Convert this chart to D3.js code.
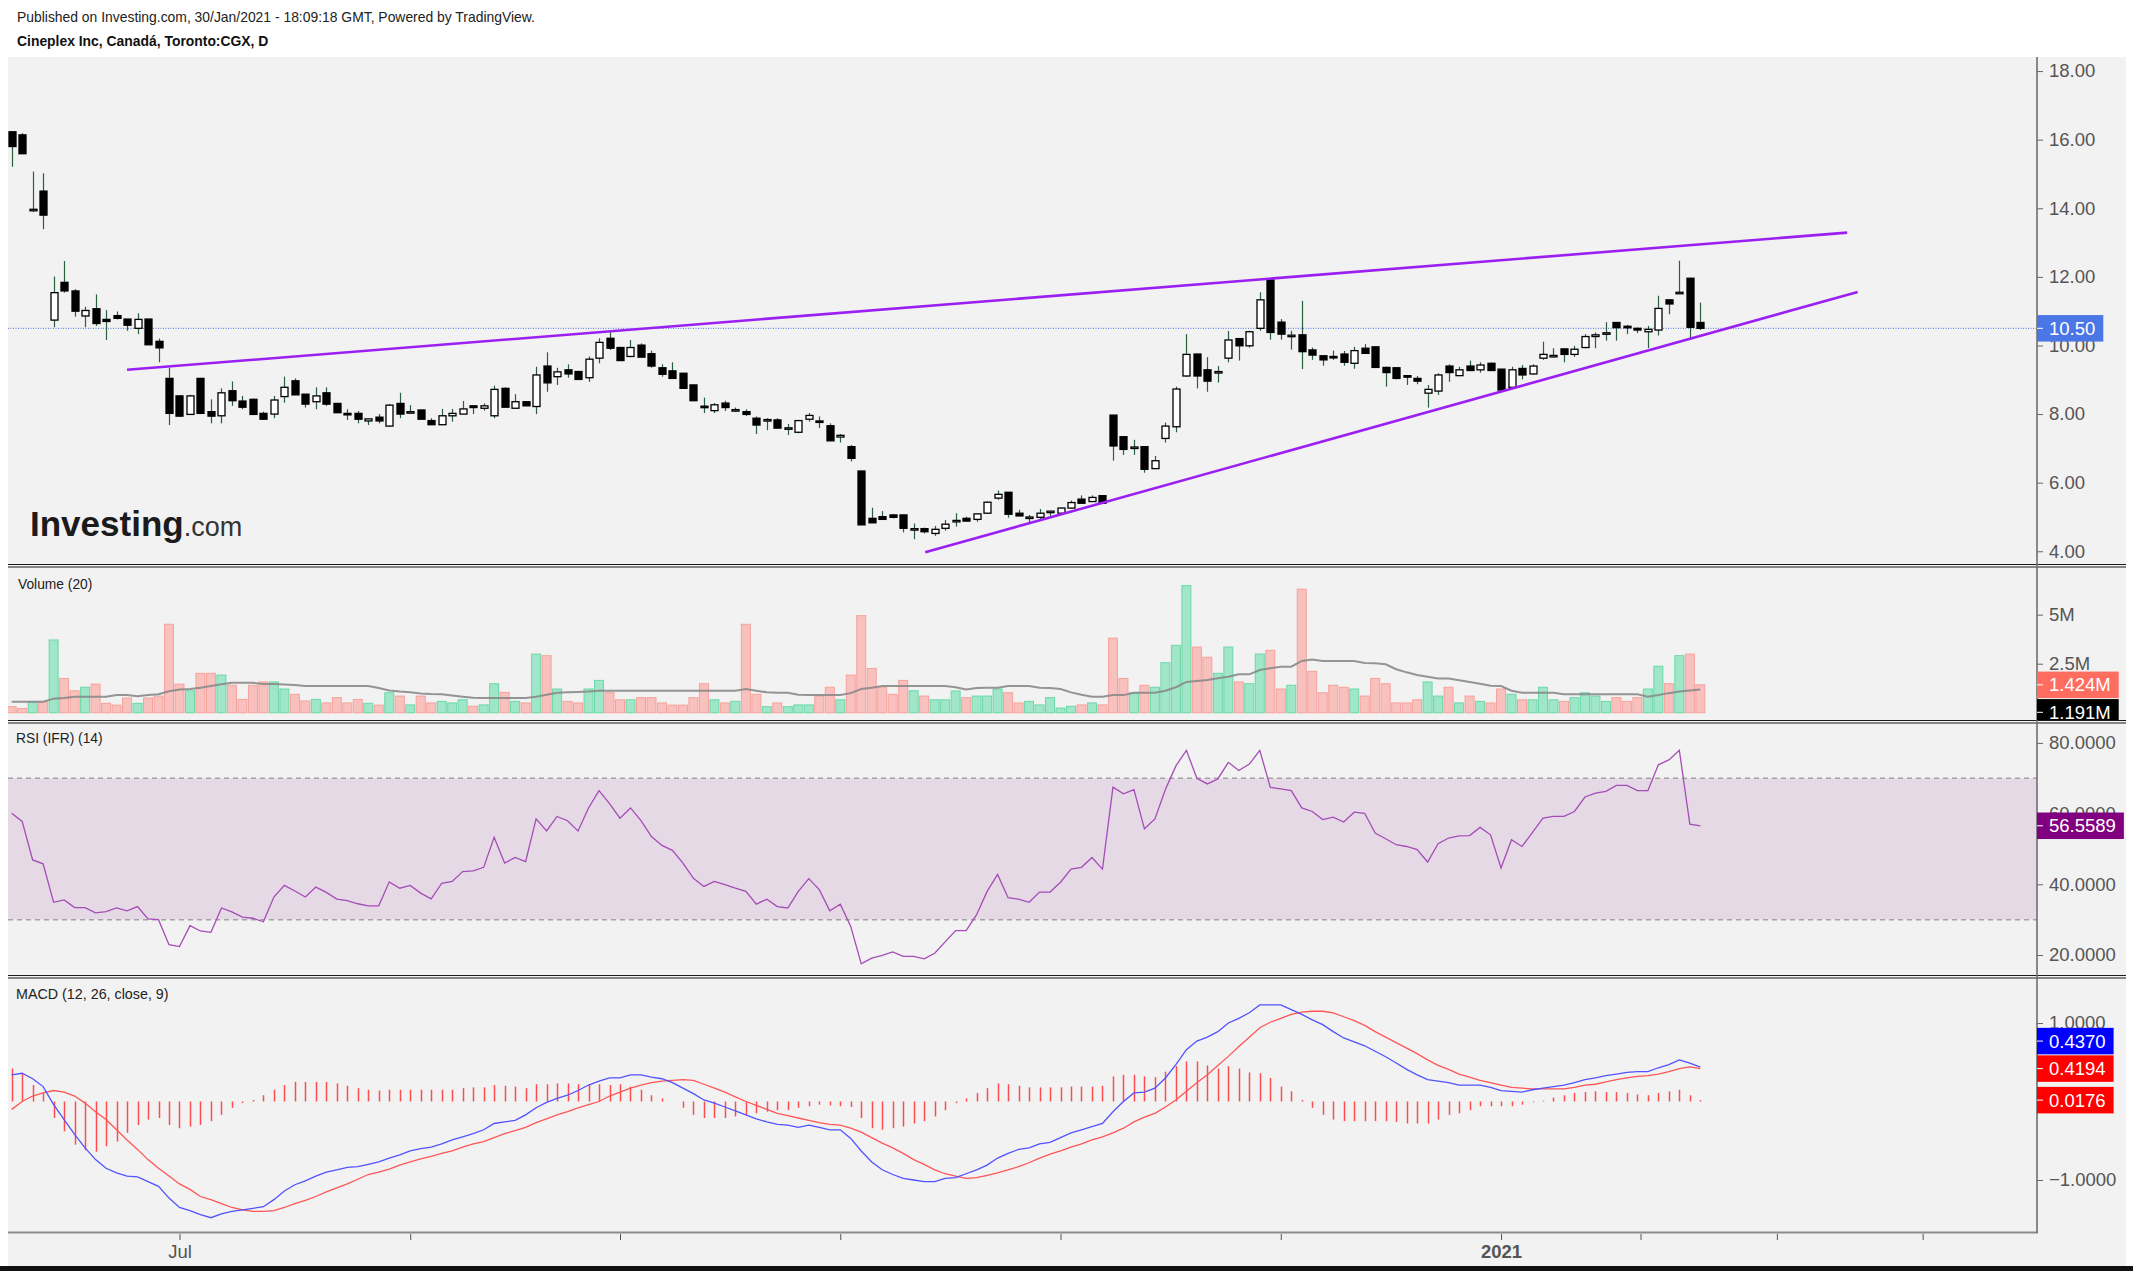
<!DOCTYPE html>
<html>
<head>
<meta charset="utf-8">
<script src="https://cdn.jsdelivr.net/npm/d3@7"></script>
<style>
  body { margin: 0; background: #fff; }
  svg { display: block; font-family: "Liberation Sans", Arial, sans-serif; }
</style>
</head>
<body>
<div id="chart"></div>
<script>
// ---- data ----
const titleLine = "Published on Investing.com, 30/Jan/2021 - 18:09:18 GMT, Powered by TradingView.";
const symbolLine = "Cineplex Inc, Canadá, Toronto:CGX, D";

// TSX closed days inside the range
const holidays = ["2020-07-01", "2020-08-03", "2020-09-07", "2020-10-12", "2020-12-25", "2020-12-28", "2021-01-01"];

const open = [
  16.23,16.14,13.94,14.50,10.74,11.84,11.59,10.86,11.07,10.76,
  10.87,10.77,10.50,10.77,10.12,9.04,8.53,7.99,9.04,8.07,
  7.95,8.68,8.38,8.43,8.02,8.00,8.51,8.97,8.58,8.36,
  8.62,8.31,8.02,8.02,7.80,7.91,7.65,8.31,8.04,8.12,
  7.81,7.69,7.95,8.00,8.24,8.17,7.95,8.75,8.17,8.36,
  8.22,9.40,9.09,9.29,9.24,9.06,9.63,10.21,9.94,9.68,
  10.01,9.76,9.35,9.26,9.19,8.85,8.23,8.10,8.32,8.11,
  8.07,7.88,7.82,7.83,7.58,7.47,7.85,7.80,7.66,7.33,
  7.05,6.34,4.96,5.01,5.06,5.06,4.63,4.66,4.52,4.67,
  4.88,4.96,4.93,5.11,5.55,5.72,5.11,4.98,4.99,5.15,
  5.11,5.26,5.52,5.45,5.62,7.97,7.34,7.02,7.05,6.41,
  7.29,7.63,9.11,9.75,9.29,9.21,9.63,10.20,9.99,10.50,
  11.91,10.68,10.27,10.31,9.87,9.70,9.68,9.75,9.48,9.92,
  9.96,9.36,9.35,9.12,9.04,8.61,8.67,9.40,9.12,9.40,
  9.29,9.48,9.31,8.78,9.33,9.17,9.63,9.69,9.90,9.74,
  9.94,10.26,10.35,10.67,10.56,10.50,10.40,10.45,11.33,11.51,
  11.96,10.67
];
const high = [
  16.23,16.19,15.07,15.02,12.01,12.46,11.64,11.13,11.49,11.03,
  10.99,10.77,10.94,10.77,10.20,9.35,8.55,8.56,9.06,8.43,
  8.75,8.95,8.53,8.45,8.07,8.53,9.09,9.04,8.58,8.78,
  8.78,8.31,8.14,8.09,7.86,8.00,8.29,8.62,8.26,8.12,
  7.88,8.15,8.15,8.38,8.24,8.31,8.83,8.78,8.58,8.36,
  9.38,9.80,9.35,9.45,9.26,9.68,10.21,10.40,9.96,10.16,
  10.06,9.85,9.45,9.51,9.19,8.85,8.48,8.32,8.39,8.19,
  8.14,7.93,7.88,7.88,7.71,7.83,8.03,7.93,7.73,7.42,
  7.10,6.34,5.27,5.17,5.08,5.06,4.81,4.69,4.74,4.91,
  5.11,5.01,5.10,5.45,5.77,5.72,5.21,5.06,5.23,5.18,
  5.27,5.48,5.63,5.63,5.63,7.97,7.34,7.25,7.05,6.78,
  7.75,8.80,10.33,9.76,9.66,9.40,10.42,10.22,10.43,11.55,
  11.93,10.77,10.43,11.30,9.94,9.70,9.85,9.84,9.96,10.04,
  9.97,9.38,9.36,9.14,9.11,8.85,9.19,9.45,9.38,9.56,
  9.51,9.50,9.31,9.38,9.43,9.45,10.11,9.92,9.92,9.99,
  10.33,10.38,10.68,10.68,10.60,10.52,10.57,11.45,11.35,12.47,
  11.97,11.25
];
const low = [
  15.21,15.59,13.90,13.39,10.53,11.54,10.84,10.53,10.57,10.16,
  10.76,10.43,10.33,10.02,9.51,7.68,7.92,7.99,8.02,7.73,
  7.73,8.24,8.14,7.99,7.84,7.88,8.33,8.56,8.19,8.14,
  8.24,8.04,7.83,7.73,7.68,7.73,7.63,7.88,8.02,7.85,
  7.69,7.69,7.78,8.00,8.00,8.10,7.88,8.20,8.15,8.24,
  8.00,8.65,8.85,9.06,9.01,8.94,9.48,9.87,9.56,9.66,
  9.66,9.35,9.09,9.04,8.75,8.39,8.03,8.03,8.09,8.06,
  7.94,7.42,7.53,7.59,7.39,7.44,7.78,7.59,7.22,7.17,
  6.62,4.77,4.83,4.93,4.96,4.55,4.35,4.52,4.45,4.60,
  4.72,4.88,4.86,5.10,5.50,4.98,5.03,4.83,4.91,5.03,
  5.10,5.25,5.40,5.44,5.40,6.64,6.81,6.81,6.29,6.41,
  7.17,7.47,9.09,8.75,8.65,8.92,9.51,9.56,9.94,10.43,
  10.17,10.17,9.88,9.31,9.58,9.41,9.58,9.41,9.32,9.77,
  9.36,8.80,9.01,8.85,8.87,8.19,8.56,8.94,9.12,9.27,
  9.21,9.27,8.70,8.76,9.01,9.15,9.58,9.65,9.51,9.67,
  9.92,9.92,10.14,10.14,10.33,10.36,9.92,10.29,10.91,11.50,
  10.17,10.45
];
const close = [
  15.80,15.59,13.97,13.80,11.54,11.59,11.00,11.02,10.64,10.70,
  10.79,10.59,10.76,10.02,9.93,8.02,7.94,8.53,8.02,7.94,
  8.62,8.39,8.20,7.99,7.85,8.41,8.78,8.56,8.29,8.53,
  8.29,8.04,8.00,7.85,7.86,7.80,8.26,8.00,8.07,7.85,
  7.69,7.95,8.02,8.15,8.19,8.24,8.72,8.20,8.36,8.24,
  9.14,8.91,9.23,9.17,9.01,9.60,10.09,9.92,9.56,9.94,
  9.66,9.40,9.16,9.04,8.75,8.39,8.21,8.27,8.19,8.13,
  7.99,7.68,7.84,7.59,7.60,7.81,7.96,7.76,7.22,7.38,
  6.71,4.77,4.83,4.93,4.99,4.67,4.66,4.57,4.64,4.79,
  4.90,4.88,5.09,5.43,5.66,5.08,5.03,5.00,5.11,5.17,
  5.26,5.42,5.40,5.57,5.40,7.07,6.97,7.04,6.39,6.64,
  7.65,8.73,9.74,9.11,8.96,9.24,10.16,9.99,10.40,11.33,
  10.38,10.33,10.30,9.82,9.72,9.58,9.66,9.51,9.85,9.77,
  9.36,9.21,9.04,9.10,8.96,8.72,9.14,9.21,9.29,9.27,
  9.43,9.27,8.70,9.29,9.14,9.40,9.74,9.71,9.74,9.89,
  10.26,10.31,10.37,10.52,10.54,10.45,10.47,11.08,11.21,11.55,
  10.53,10.50
];

// volume in millions, and its 20-day average
const volume = [
  0.31,0.22,0.56,0.56,3.71,1.75,1.12,1.30,1.46,0.48,
  0.39,0.75,0.48,0.75,0.85,4.51,1.46,1.12,2.01,2.01,
  1.92,1.40,0.68,1.40,1.57,1.57,1.21,0.94,0.60,0.68,
  0.50,0.77,0.50,0.68,0.48,0.39,1.02,0.85,0.40,0.85,
  0.50,0.58,0.50,0.66,0.33,0.40,1.48,1.04,0.58,0.50,
  2.99,2.91,1.21,0.58,0.50,1.21,1.65,1.02,0.66,0.66,
  0.77,0.77,0.50,0.39,0.39,0.77,1.48,0.66,0.50,0.58,
  4.51,0.94,0.31,0.50,0.31,0.40,0.40,0.85,1.30,0.66,
  1.92,4.95,2.26,1.30,0.94,1.65,1.12,0.85,0.66,0.66,
  1.11,0.77,0.85,0.85,1.21,1.02,0.50,0.58,0.40,0.77,
  0.24,0.33,0.40,0.50,0.40,3.80,1.75,1.02,1.40,1.30,
  2.55,3.44,6.48,3.35,2.83,2.01,3.35,1.57,1.48,2.99,
  3.18,1.21,1.40,6.30,2.11,1.02,1.40,1.30,1.21,0.85,
  1.75,1.48,0.50,0.50,0.66,1.57,0.85,1.30,0.50,0.85,
  0.58,0.50,1.21,0.94,0.66,0.66,1.30,0.66,0.58,0.77,
  1.02,0.85,0.58,0.77,0.58,0.77,1.21,2.37,1.48,2.91,
  2.99,1.424
];
const volumeMA = [
  0.56,0.56,0.56,0.56,0.72,0.75,0.82,0.82,0.82,0.82,
  0.90,0.90,0.84,0.90,0.94,1.10,1.19,1.21,1.28,1.36,
  1.45,1.53,1.53,1.53,1.46,1.46,1.44,1.42,1.36,1.36,
  1.36,1.36,1.36,1.36,1.36,1.26,1.14,1.08,1.04,0.98,
  0.95,0.94,0.88,0.82,0.76,0.75,0.75,0.75,0.75,0.75,
  0.82,0.92,1.02,1.04,1.06,1.08,1.12,1.12,1.12,1.12,
  1.12,1.12,1.12,1.12,1.12,1.12,1.12,1.12,1.12,1.12,
  1.21,1.12,1.04,1.02,1.02,0.92,0.90,0.90,0.90,0.90,
  1.00,1.21,1.28,1.36,1.36,1.36,1.36,1.36,1.36,1.36,
  1.30,1.19,1.26,1.28,1.28,1.36,1.36,1.36,1.28,1.26,
  1.21,1.04,0.92,0.82,0.82,0.90,0.90,1.02,1.02,1.02,
  1.12,1.30,1.57,1.62,1.67,1.76,1.84,1.96,1.96,2.18,
  2.27,2.35,2.35,2.64,2.72,2.64,2.64,2.64,2.64,2.54,
  2.52,2.47,2.22,2.06,1.92,1.84,1.75,1.74,1.66,1.57,
  1.48,1.38,1.36,1.12,1.02,1.02,1.02,1.02,0.94,0.94,
  0.94,0.94,0.94,0.94,0.94,0.94,0.82,0.90,1.00,1.08,
  1.14,1.191
];

const rsi = [
  60.1,57.8,46.9,45.8,34.9,35.6,33.4,33.4,31.9,32.3,
  33.3,32.5,33.7,30.2,30.0,22.9,22.4,28.3,26.8,26.4,
  33.3,32.2,30.7,30.4,29.4,36.4,39.7,38.1,36.4,39.2,
  37.7,35.8,35.4,34.5,33.9,33.9,40.7,38.9,39.7,37.5,
  35.9,40.3,40.8,43.6,43.8,44.8,53.3,46.0,47.6,46.4,
  58.5,55.1,59.2,58.0,55.1,61.6,66.5,62.8,58.7,61.6,
  58.0,53.5,51.0,49.6,46.0,41.7,39.4,40.8,39.9,38.9,
  38.0,34.4,35.8,33.7,33.3,38.0,41.6,38.5,32.5,34.4,
  28.1,17.5,19.1,19.9,20.9,19.6,19.6,18.9,20.5,23.7,
  26.9,26.9,31.4,38.0,42.8,36.2,35.8,34.9,37.8,37.8,
  40.6,44.3,44.8,47.6,44.3,67.5,65.6,66.8,55.7,58.5,
  66.8,73.5,77.9,70.0,68.4,69.8,74.5,72.2,74.0,77.9,
  67.4,67.0,66.5,61.6,60.6,58.3,59.0,57.6,60.4,60.1,
  54.5,52.9,51.2,50.7,49.8,46.3,51.5,53.1,53.7,53.8,
  56.1,54.0,44.6,52.6,50.7,54.7,58.7,59.2,59.2,60.6,
  64.7,65.8,66.3,68.0,68.0,66.5,66.5,73.8,75.2,77.9,
  57.0,56.5589
];

const macd = [
  0.34,0.36,0.29,0.19,-0.04,-0.23,-0.42,-0.59,-0.74,-0.85,
  -0.91,-0.95,-0.96,-1.02,-1.08,-1.23,-1.35,-1.39,-1.44,-1.48,
  -1.43,-1.40,-1.38,-1.36,-1.34,-1.25,-1.14,-1.06,-1.01,-0.95,
  -0.90,-0.87,-0.84,-0.83,-0.80,-0.77,-0.72,-0.68,-0.63,-0.60,
  -0.58,-0.54,-0.49,-0.45,-0.41,-0.36,-0.28,-0.26,-0.24,-0.17,
  -0.08,-0.01,0.04,0.08,0.14,0.21,0.26,0.30,0.30,0.34,
  0.34,0.31,0.29,0.24,0.17,0.10,0.02,-0.02,-0.07,-0.12,
  -0.17,-0.22,-0.26,-0.29,-0.30,-0.33,-0.30,-0.33,-0.36,-0.36,
  -0.47,-0.63,-0.77,-0.87,-0.93,-0.98,-1.00,-1.02,-1.02,-0.98,
  -0.97,-0.92,-0.87,-0.81,-0.72,-0.66,-0.61,-0.59,-0.54,-0.52,
  -0.46,-0.40,-0.36,-0.32,-0.28,-0.13,0.00,0.11,0.12,0.17,
  0.30,0.47,0.66,0.77,0.82,0.89,1.00,1.06,1.13,1.23,
  1.23,1.23,1.17,1.11,1.04,0.98,0.89,0.81,0.76,0.71,
  0.64,0.57,0.49,0.41,0.34,0.28,0.26,0.24,0.21,0.21,
  0.21,0.18,0.14,0.13,0.12,0.15,0.17,0.19,0.21,0.24,
  0.28,0.30,0.33,0.35,0.37,0.38,0.38,0.43,0.47,0.53,
  0.49,0.4370
];
const signal = [
  -0.10,0.00,0.07,0.11,0.14,0.12,0.07,-0.02,-0.13,-0.23,
  -0.36,-0.49,-0.61,-0.74,-0.85,-0.95,-1.05,-1.12,-1.21,-1.25,
  -1.30,-1.35,-1.38,-1.40,-1.40,-1.39,-1.35,-1.30,-1.26,-1.21,
  -1.15,-1.10,-1.05,-0.99,-0.93,-0.90,-0.86,-0.81,-0.77,-0.73,
  -0.70,-0.66,-0.63,-0.58,-0.54,-0.51,-0.46,-0.41,-0.37,-0.33,
  -0.27,-0.22,-0.17,-0.13,-0.08,-0.04,0.00,0.07,0.12,0.17,
  0.21,0.24,0.26,0.27,0.28,0.27,0.22,0.17,0.12,0.06,
  0.00,-0.05,-0.10,-0.15,-0.18,-0.21,-0.24,-0.27,-0.29,-0.30,
  -0.34,-0.39,-0.46,-0.53,-0.59,-0.66,-0.74,-0.80,-0.87,-0.92,
  -0.95,-0.98,-0.97,-0.94,-0.91,-0.87,-0.83,-0.78,-0.72,-0.67,
  -0.63,-0.58,-0.54,-0.49,-0.45,-0.40,-0.34,-0.26,-0.20,-0.15,
  -0.07,0.02,0.13,0.24,0.34,0.46,0.575,0.70,0.82,0.94,
  1.01,1.06,1.11,1.14,1.15,1.15,1.13,1.08,1.03,0.97,
  0.89,0.82,0.75,0.68,0.61,0.53,0.46,0.41,0.35,0.31,
  0.27,0.24,0.21,0.18,0.17,0.16,0.16,0.16,0.16,0.18,
  0.21,0.22,0.25,0.28,0.30,0.32,0.33,0.35,0.38,0.42,
  0.44,0.4194
];
const histogram = [
  0.42,0.36,0.21,0.11,-0.21,-0.38,-0.55,-0.62,-0.64,-0.57,
  -0.51,-0.40,-0.30,-0.23,-0.21,-0.30,-0.34,-0.32,-0.30,-0.25,
  -0.17,-0.08,-0.02,0.02,0.08,0.15,0.21,0.25,0.25,0.25,
  0.25,0.23,0.20,0.17,0.15,0.14,0.15,0.15,0.15,0.15,
  0.15,0.15,0.15,0.17,0.18,0.18,0.21,0.20,0.19,0.17,
  0.22,0.22,0.23,0.23,0.22,0.22,0.22,0.21,0.22,0.19,
  0.15,0.08,0.04,0.00,-0.08,-0.17,-0.21,-0.21,-0.21,-0.19,
  -0.17,-0.15,-0.13,-0.11,-0.11,-0.08,-0.06,-0.04,-0.05,-0.06,
  -0.07,-0.21,-0.34,-0.36,-0.34,-0.32,-0.28,-0.25,-0.19,-0.11,
  -0.02,0.04,0.11,0.17,0.23,0.22,0.20,0.18,0.18,0.18,
  0.18,0.19,0.19,0.19,0.20,0.32,0.34,0.34,0.32,0.31,
  0.38,0.45,0.51,0.51,0.46,0.42,0.45,0.42,0.37,0.36,
  0.30,0.19,0.13,0.02,-0.08,-0.17,-0.23,-0.25,-0.25,-0.25,
  -0.25,-0.25,-0.26,-0.28,-0.28,-0.28,-0.23,-0.17,-0.15,-0.11,
  -0.06,-0.06,-0.06,-0.06,-0.04,-0.01,0.01,0.05,0.08,0.11,
  0.12,0.13,0.12,0.12,0.11,0.09,0.08,0.11,0.13,0.15,
  0.08,0.0176
];

// trend lines drawn on the chart: [bar index, price]
const trendUpper = [[11.0, 9.29], [175.0, 13.29]];
const trendLower = [[87.1, 3.97], [176.0, 11.56]];

const priceTicks = [4, 6, 8, 10, 12, 14, 16, 18];
const volumeTicks = [2.5, 5];
const rsiTicks = [20, 40, 60, 80];
const macdTicks = [-1, 1];
// extra marks on the time axis past the month marks (bar index)
const extraTimeTicks = [155.3, 168.3, 182.2];

// ---- layout ----
const width = 2133, height = 1271;
const plotL = 8, plotR = 2037, bgR = 2126;
const P = { top: 57, bottom: 565 }, V = { top: 566, bottom: 721 },
      R = { top: 721, bottom: 976 }, M = { top: 976, bottom: 1233 };

const fmtDay = d3.timeFormat("%Y-%m-%d");
const dates = d3.timeDay.range(new Date(2020, 5, 9), new Date(2021, 0, 30))
  .filter(d => d.getDay() % 6 !== 0 && !holidays.includes(fmtDay(d)));

const x = d3.scaleLinear().domain([-0.35, 193.1]).range([plotL, plotR]);
const yP = d3.scaleLinear().domain([3.60, 18.41]).range([P.bottom, P.top]);
const yV = d3.scaleLinear().domain([-0.42, 7.48]).range([V.bottom, V.top]);
const yR = d3.scaleLinear().domain([14.06, 86.2]).range([R.bottom, R.top]);
const yM = d3.scaleLinear().domain([-1.675, 1.599]).range([M.bottom, M.top]);

const svg = d3.select("#chart").append("svg")
  .attr("width", width).attr("height", height);

const defs = svg.append("defs");
function clip(id, x0, x1, y0, y1) {
  defs.append("clipPath").attr("id", id).append("rect")
    .attr("x", x0).attr("y", y0).attr("width", x1 - x0).attr("height", y1 - y0);
}
clip("cp", plotL, plotR, P.top, P.bottom);
clip("cv", plotL, plotR, V.top, V.bottom);
clip("cr", plotL, plotR, R.top, R.bottom);
clip("cm", plotL, plotR, M.top, M.bottom);
clip("lp", plotR, width, P.top, P.bottom);
clip("lv", plotR, width, V.top + 1, V.bottom - 1);
clip("lr", plotR, width, R.top + 2, R.bottom - 1);
clip("lm", plotR, width, M.top + 2, M.bottom);

// background
svg.append("rect").attr("x", plotL).attr("y", P.top)
  .attr("width", bgR - plotL).attr("height", 1266 - P.top).attr("fill", "#f2f2f2");
svg.append("rect").attr("x", 0).attr("y", 1266).attr("width", width).attr("height", 5).attr("fill", "#111");

// titles
svg.append("text").attr("x", 17).attr("y", 21.5).attr("font-size", 13.9).attr("fill", "#222").text(titleLine);
svg.append("text").attr("x", 17).attr("y", 46).attr("font-size", 13.9).attr("font-weight", "bold")
  .attr("fill", "#111").text(symbolLine);

// ---- price panel ----
const bars = d3.range(dates.length).map(i => ({
  i, o: open[i], h: high[i], l: low[i], c: close[i], v: volume[i]
}));

const gP = svg.append("g").attr("clip-path", "url(#cp)");

// logo
const logo = gP.append("text").attr("x", 30).attr("y", 536).attr("fill", "#1b1b1b");
logo.append("tspan").attr("font-size", 35).attr("font-weight", "bold").text("Investing");
logo.append("tspan").attr("font-size", 27).attr("fill", "#333").text(".com");

// last price line
gP.append("line").attr("x1", plotL).attr("x2", plotR)
  .attr("y1", yP(close[close.length - 1])).attr("y2", yP(close[close.length - 1]))
  .attr("stroke", "#4b6fe0").attr("stroke-width", 1).attr("stroke-dasharray", "1,1.5");

gP.selectAll("line.wick").data(bars).join("line").attr("class", "wick")
  .attr("x1", d => Math.round(x(d.i)) + 0.5).attr("x2", d => Math.round(x(d.i)) + 0.5)
  .attr("y1", d => yP(d.h)).attr("y2", d => yP(d.l))
  .attr("stroke", "#2a5f3f").attr("stroke-width", 1.2);

gP.selectAll("rect.body").data(bars).join("rect").attr("class", "body")
  .attr("x", d => Math.round(x(d.i)) - 3)
  .attr("width", 7)
  .attr("y", d => yP(Math.max(d.o, d.c)))
  .attr("height", d => Math.max(1.5, Math.abs(yP(d.o) - yP(d.c))))
  .attr("fill", d => d.c >= d.o ? "#fff" : "#000")
  .attr("stroke", "#000").attr("stroke-width", 1.3);

const trend = d3.line().x(d => x(d[0])).y(d => yP(d[1]));
[trendUpper, trendLower].forEach(t => {
  gP.append("path").attr("d", trend(t)).attr("fill", "none")
    .attr("stroke", "#9b1ff2").attr("stroke-width", 2.6);
});

// ---- volume panel ----
const gV = svg.append("g").attr("clip-path", "url(#cv)");
gV.selectAll("rect.vol").data(bars).join("rect").attr("class", "vol")
  .attr("x", d => x(d.i) - 4.5).attr("width", 9)
  .attr("y", d => yV(d.v)).attr("height", d => yV(0) - yV(d.v))
  .attr("fill", d => d.c >= d.o ? "#a0e6c8" : "#f8c1bd")
  .attr("stroke", d => d.c >= d.o ? "#6cd8a8" : "#f6a29c").attr("stroke-width", 1);
gV.append("path").datum(volumeMA)
  .attr("d", d3.line().x((d, i) => x(i)).y(d => yV(d)))
  .attr("fill", "none").attr("stroke", "#8a8a8a").attr("stroke-width", 2).attr("stroke-opacity", 0.9);
svg.append("text").attr("x", 18).attr("y", 588.5).attr("font-size", 13.8).attr("fill", "#222").text("Volume (20)");

// ---- RSI panel ----
const gR = svg.append("g").attr("clip-path", "url(#cr)");
gR.append("rect").attr("x", plotL).attr("width", plotR - plotL)
  .attr("y", yR(70)).attr("height", yR(30) - yR(70)).attr("fill", "#e5d9e6");
[70, 30].forEach(v => {
  gR.append("line").attr("x1", plotL).attr("x2", plotR).attr("y1", yR(v)).attr("y2", yR(v))
    .attr("stroke", "#a3a3a3").attr("stroke-width", 1.5).attr("stroke-dasharray", "5,4");
});
gR.append("path").datum(rsi)
  .attr("d", d3.line().x((d, i) => x(i)).y(d => yR(d)))
  .attr("fill", "none").attr("stroke", "#a54cb6").attr("stroke-width", 1.3);
svg.append("text").attr("x", 16).attr("y", 742.5).attr("font-size", 13.8).attr("fill", "#222").text("RSI (IFR) (14)");

// ---- MACD panel ----
const gM = svg.append("g").attr("clip-path", "url(#cm)");
gM.selectAll("line.hist").data(histogram).join("line").attr("class", "hist")
  .attr("x1", (d, i) => Math.round(x(i)) + 0.5).attr("x2", (d, i) => Math.round(x(i)) + 0.5)
  .attr("y1", yM(0)).attr("y2", d => yM(d))
  .attr("stroke", "#ff4d4d").attr("stroke-width", 1.5);
gM.append("path").datum(signal)
  .attr("d", d3.line().x((d, i) => x(i)).y(d => yM(d)))
  .attr("fill", "none").attr("stroke", "#ff5555").attr("stroke-width", 1.3);
gM.append("path").datum(macd)
  .attr("d", d3.line().x((d, i) => x(i)).y(d => yM(d)))
  .attr("fill", "none").attr("stroke", "#5252ff").attr("stroke-width", 1.3);
svg.append("text").attr("x", 16).attr("y", 998.5).attr("font-size", 14.3).attr("fill", "#222").text("MACD (12, 26, close, 9)");

// ---- separators and frame ----
[P.bottom, V.bottom, R.bottom].forEach(y => {
  [y - 0.5, y + 2].forEach(yy => {
    svg.append("line").attr("x1", plotL).attr("x2", bgR).attr("y1", yy).attr("y2", yy)
      .attr("stroke", "#1a1a1a").attr("stroke-width", 1.1);
  });
});
svg.append("line").attr("x1", plotL).attr("x2", plotR + 1).attr("y1", M.bottom - 0.5).attr("y2", M.bottom - 0.5)
  .attr("stroke", "#8c8c8c").attr("stroke-width", 2);
svg.append("line").attr("x1", plotR).attr("x2", plotR).attr("y1", P.top).attr("y2", M.bottom)
  .attr("stroke", "#6e6e6e").attr("stroke-width", 1.6);

// ---- right axes ----
function rightAxis(scale, ticks, fmt) {
  const g = svg.append("g").attr("transform", `translate(${plotR},0)`)
    .call(d3.axisRight(scale).tickValues(ticks).tickFormat(fmt).tickSize(6).tickPadding(6));
  g.select(".domain").remove();
  g.selectAll(".tick line").attr("stroke", "#666");
  g.selectAll(".tick text").attr("fill", "#555").attr("font-size", 18.5)
    .attr("font-family", "Liberation Sans, Arial, sans-serif");
}
rightAxis(yP, priceTicks, d3.format(".2f"));
rightAxis(yV, volumeTicks, d => d + "M");
rightAxis(yR, rsiTicks, d3.format(".4f"));
rightAxis(yM, macdTicks, d3.format(".4f"));

// ---- time axis ----
const monthStarts = bars.filter(b => b.i > 0 && dates[b.i].getMonth() !== dates[b.i - 1].getMonth()).map(b => b.i);
const timeTicks = monthStarts.concat(extraTimeTicks);
const tickLabel = i => {
  if (!Number.isInteger(i) || i >= dates.length) return "";
  const d = dates[i];
  if (d.getMonth() === 0) return d3.timeFormat("%Y")(d);
  return d.getMonth() === 6 ? d3.timeFormat("%b")(d) : "";
};
const gX = svg.append("g").attr("transform", `translate(0,${M.bottom + 1})`)
  .call(d3.axisBottom(x).tickValues(timeTicks).tickFormat(tickLabel).tickSize(6).tickPadding(5));
gX.select(".domain").remove();
gX.selectAll(".tick line").attr("stroke", "#555");
gX.selectAll(".tick text").attr("fill", "#555").attr("font-size", 18.5)
  .attr("font-family", "Liberation Sans, Arial, sans-serif")
  .attr("font-weight", d => Number.isInteger(d) && d < dates.length && dates[d].getMonth() === 0 ? "bold" : "normal");

// ---- last value labels ----
function valueLabels(items, clipId) {
  const h = 27.5, placed = [];
  const g = svg.append("g").attr("clip-path", `url(#${clipId})`);
  items.forEach(it => {
    let y = it.y;
    for (let k = 0; k < 10; k++) {
      const hit = placed.find(p => Math.abs(y - p) < h - 0.01);
      if (!hit) break;
      y = hit + it.dir * h;
    }
    placed.push(y);
    const t = g.append("text").attr("x", plotR + 12).attr("y", y).attr("dy", "0.35em")
      .attr("font-size", 18.5).attr("fill", "#fff").text(it.text);
    const w = t.node().getComputedTextLength();
    g.insert("rect", "text").attr("x", plotR).attr("y", y - h / 2 + 0.5)
      .attr("width", w + 20).attr("height", h - 1).attr("fill", it.fill);
    g.append("line").attr("x1", plotR).attr("x2", plotR + 6).attr("y1", y).attr("y2", y)
      .attr("stroke", "#fff").attr("stroke-width", 1);
    t.raise();
  });
}
const last = close.length - 1;
valueLabels([{ y: yP(close[last]), text: close[last].toFixed(2), fill: "#4b76e6", dir: -1 }], "lp");
valueLabels([
  { y: yV(volume[last]), text: volume[last].toFixed(3) + "M", fill: "#ff6d60", dir: -1 },
  { y: yV(volumeMA[last]), text: volumeMA[last].toFixed(3) + "M", fill: "#000", dir: 1 }
], "lv");
valueLabels([{ y: yR(rsi[last]), text: rsi[last].toFixed(4), fill: "#800080", dir: -1 }], "lr");
valueLabels([
  { y: yM(histogram[last]), text: histogram[last].toFixed(4), fill: "#ff0000", dir: -1 },
  { y: yM(signal[last]), text: signal[last].toFixed(4), fill: "#ff0000", dir: -1 },
  { y: yM(macd[last]), text: macd[last].toFixed(4), fill: "#0000ff", dir: -1 }
], "lm");
</script>
</body>
</html>
